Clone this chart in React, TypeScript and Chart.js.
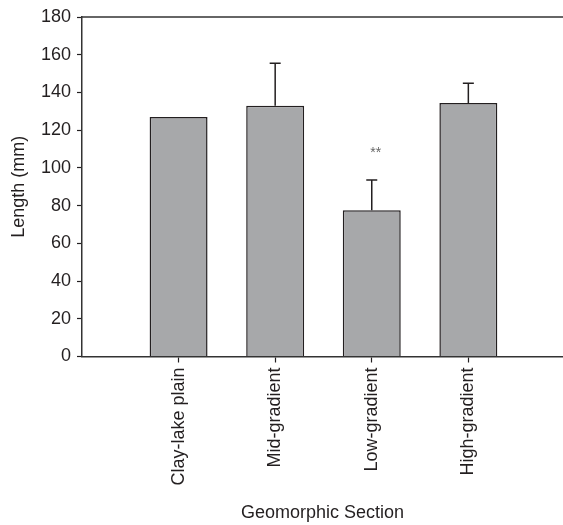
import React, { useEffect, useRef } from "react";
import { Chart, registerables } from "chart.js";

Chart.register(...registerables);

const categories = ["Clay-lake plain", "Mid-gradient", "Low-gradient", "High-gradient"];
const meanLength = [127, 133, 77.6, 134.4];
const errorUpper = [0, 22.5, 16, 10.5];
const significance = ["", "", "**", ""];
const significanceLevel = [0, 0, 108, 0];
const yTicks = [0, 20, 40, 60, 80, 100, 120, 140, 160, 180];

const INK = "#231f20";
const FONT = "'Liberation Sans', Arial, Helvetica, sans-serif";

export default function App() {
  const canvasRef = useRef<HTMLCanvasElement | null>(null);

  useEffect(() => {
    const canvas = canvasRef.current;
    if (!canvas) return;

    const extras = {
      id: "extras",
      afterDatasetsDraw(chart: any) {
        const { ctx, chartArea, scales } = chart;
        const xs = scales.x;
        const ys = scales.y;
        ctx.save();
        // top frame line
        ctx.strokeStyle = "#333333";
        ctx.lineWidth = 1.5;
        ctx.beginPath();
        ctx.moveTo(chartArea.left, chartArea.top);
        ctx.lineTo(chartArea.right, chartArea.top);
        ctx.stroke();
        // error bars
        ctx.strokeStyle = INK;
        ctx.lineWidth = 1.5;
        meanLength.forEach((m, i) => {
          const e = errorUpper[i];
          if (!e) return;
          const x = xs.getPixelForValue(i + 1);
          const y0 = ys.getPixelForValue(m);
          const y1 = ys.getPixelForValue(m + e);
          ctx.beginPath();
          ctx.moveTo(x, y0);
          ctx.lineTo(x, y1);
          ctx.moveTo(x - 5.5, y1);
          ctx.lineTo(x + 5.5, y1);
          ctx.stroke();
        });
        // significance marks
        ctx.fillStyle = "#666666";
        ctx.font = `14px ${FONT}`;
        ctx.textAlign = "center";
        ctx.textBaseline = "middle";
        significance.forEach((s, i) => {
          if (!s) return;
          ctx.fillText(s, xs.getPixelForValue(i + 1) + 4, ys.getPixelForValue(significanceLevel[i]));
        });
        ctx.restore();
      },
    };

    const chart = new Chart(canvas, {
      type: "bar",
      data: {
        datasets: [
          {
            data: meanLength.map((v, i) => ({ x: i + 1, y: v })),
            backgroundColor: "#a7a8aa",
            borderColor: INK,
            borderWidth: 1.5,
            barPercentage: 0.6,
            categoryPercentage: 1,
          },
        ],
      },
      options: {
        animation: false,
        responsive: true,
        maintainAspectRatio: false,
        layout: { padding: { top: 17, right: 0, left: 0, bottom: 0 } },
        plugins: { legend: { display: false }, tooltip: { enabled: false } },
        scales: {
          x: {
            type: "linear",
            min: 0,
            max: 4.98,
            offset: false,
            afterFit(scale: any) {
              scale.height = 168.5;
              scale.paddingLeft = 0;
              scale.paddingRight = 0;
            },
            afterBuildTicks(scale: any) {
              scale.ticks = [0, 1, 2, 3, 4].map((v) => ({ value: v }));
            },
            ticks: {
              autoSkip: false,
              minRotation: 90,
              maxRotation: 90,
              padding: 5,
              color: INK,
              font: { size: 18, family: FONT },
              callback: (v: any) => categories[Number(v) - 1] ?? "",
            },
            grid: {
              offset: false,
              drawOnChartArea: false,
              tickLength: 6,
              tickWidth: 1.2,
              color: (ctx: any) =>
                ctx.tick && ctx.tick.value >= 1 && ctx.tick.value <= categories.length ? INK : "rgba(0,0,0,0)",
            },
            border: { display: true, color: "#333333", width: 1.5 },
            title: {
              display: true,
              text: "Geomorphic Section",
              color: INK,
              font: { size: 18, family: FONT },
              padding: { top: 0, bottom: 1 },
            },
          },
          y: {
            min: 0,
            max: 180,
            afterFit(scale: any) {
              scale.width = 82;
            },
            afterBuildTicks(scale: any) {
              scale.ticks = yTicks.map((v) => ({ value: v }));
            },
            ticks: {
              padding: 6,
              color: INK,
              font: { size: 18, family: FONT },
            },
            grid: {
              drawOnChartArea: false,
              tickLength: 5,
              tickWidth: 1.2,
              color: INK,
            },
            border: { display: true, color: "#333333", width: 1.5 },
            title: {
              display: true,
              text: "Length (mm)",
              color: INK,
              font: { size: 18, family: FONT },
              padding: { top: 8, bottom: 0 },
            },
          },
        },
      },
      plugins: [extras],
    });

    return () => chart.destroy();
  }, []);

  return (
    <div style={{ position: "fixed", left: 0, top: 0, width: 563, height: 525, background: "#fff" }}>
      <canvas ref={canvasRef} />
    </div>
  );
}
